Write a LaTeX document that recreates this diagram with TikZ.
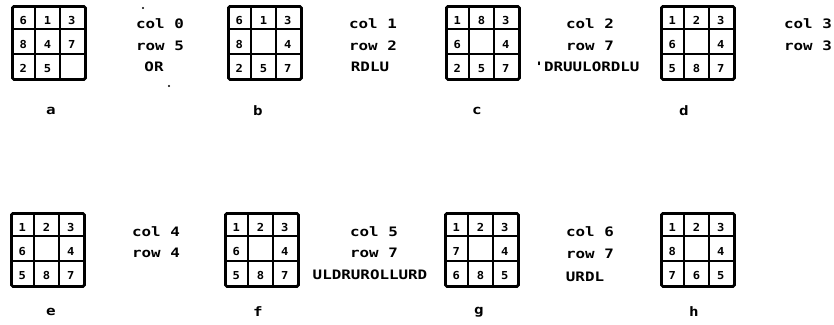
\documentclass[tikz,border=0pt]{standalone}
\usepackage{fontspec}
\usetikzlibrary{calc}
\newfontfamily\dotfont{DejaVu Sans Mono}[FakeStretch=1.22]
\newfontfamily\digfont{DejaVu Sans Mono}[FakeStretch=1.1]
\tikzset{
  puzbox/.style={draw, line width=2.8pt, rounded corners=1.5pt, minimum size=73pt, inner sep=0pt, anchor=north west},
  gridline/.style={line width=1.9pt},
  digit/.style={font=\digfont\bfseries\fontsize{11}{11}\selectfont, inner sep=0pt},
  txt/.style={font=\dotfont\bfseries\fontsize{13}{13}\selectfont, inner sep=0pt, anchor=center},
  lab/.style={font=\dotfont\bfseries\fontsize{13}{13}\selectfont, inner sep=0pt},
  speck/.style={fill=black, draw=none, circle, inner sep=0pt, minimum size=2.2pt}
}
\newcommand\puzzle[4]{%
  \node[puzbox] (#1) at (#2,#3) {};
  \draw[gridline] ($(#1.north west)+(73/3,0)$) -- ($(#1.south west)+(73/3,0)$);
  \draw[gridline] ($(#1.north west)+(146/3,0)$) -- ($(#1.south west)+(146/3,0)$);
  \draw[gridline] ($(#1.north west)+(0,73/3)$) -- ($(#1.north east)+(0,73/3)$);
  \draw[gridline] ($(#1.north west)+(0,146/3)$) -- ($(#1.north east)+(0,146/3)$);
  \foreach \v [count=\i from 0] in {#4} {%
    \pgfmathtruncatemacro\cc{mod(\i,3)}%
    \pgfmathtruncatemacro\rr{div(\i,3)}%
    \ifnum\v=0\else
      \node[digit] (#1-\i) at ($(#1.north west)+(\cc*73/3+73/6,\rr*73/3+73/6+3)$) {\v};
    \fi
  }%
}
\begin{document}
\begin{tikzpicture}[x=1pt,y=-1pt]
\useasboundingbox (0,0) rectangle (834,324);
% top row
\puzzle{a}{11}{5}{6,1,3,8,4,7,2,5,0}
\puzzle{b}{227}{5}{6,1,3,8,0,4,2,5,7}
\puzzle{c}{445}{5}{1,8,3,6,0,4,2,5,7}
\puzzle{d}{660}{5}{1,2,3,6,0,4,5,8,7}
% bottom row
\puzzle{e}{10}{212}{1,2,3,6,0,4,5,8,7}
\puzzle{f}{224}{212}{1,2,3,6,0,4,5,8,7}
\puzzle{g}{444}{212}{1,2,3,7,0,4,6,8,5}
\puzzle{h}{660}{212}{1,2,3,8,0,4,7,6,5}
% labels
\node[lab] (la) at (51,111) {a};
\node[lab] (lb) at (258,111) {b};
\node[lab] (lc) at (477,111) {c};
\node[lab] (ld) at (684,111) {d};
\node[lab] (le) at (51,312) {e};
\node[lab] (lf) at (258,312) {f};
\node[lab] (lg) at (479,312) {g};
\node[lab] (lh) at (694,312) {h};
% texts top
\node[txt] (c0) at (160,24) {col 0};
\node[txt] (r0) at (160,46) {row 5};
\node[txt] (m0) at (154,67) {OR};
\node[speck] (s1) at (143,8) {};
\node[speck] (s2) at (169,86) {};
\node[txt] (c1) at (373,24) {col 1};
\node[txt] (r1) at (373,46) {row 2};
\node[txt] (m1) at (370,67) {RDLU};
\node[txt] (c2) at (590,24) {col 2};
\node[txt] (r2) at (590,46) {row 7};
\node[txt] (m2) at (587,67) {'DRUULORDLU};
\node[txt] (c3) at (808,24) {col 3};
\node[txt] (r3) at (808,46) {row 3};
% texts bottom
\node[txt] (c4) at (156,232) {col 4};
\node[txt] (r4) at (156,253) {row 4};
\node[txt] (c5) at (374,232) {col 5};
\node[txt] (r5) at (374,253) {row 7};
\node[txt] (m5) at (370,275) {ULDRUROLLURD};
\node[txt] (c6) at (590,232) {col 6};
\node[txt] (r6) at (590,254) {row 7};
\node[txt] (m6) at (585,277) {URDL};
\end{tikzpicture}
\end{document}
